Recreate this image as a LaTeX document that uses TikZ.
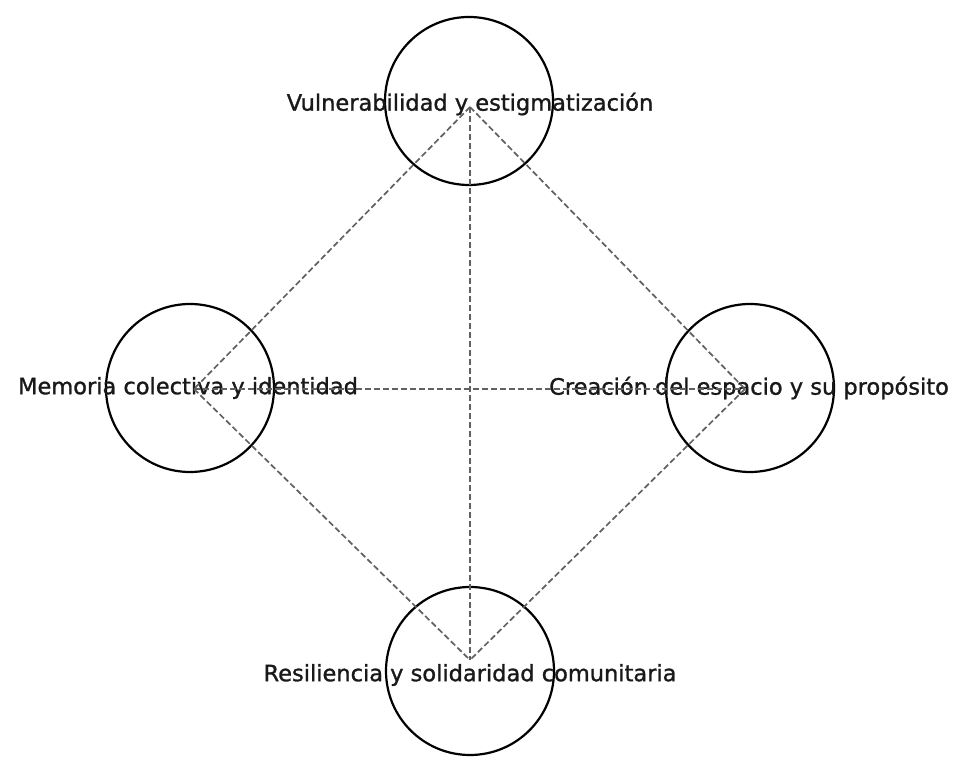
\documentclass[tikz,border=0pt]{standalone}
\usepackage{fontspec}
\setmainfont{DejaVu Sans}
\newfontfamily\lblfont[FakeBold=1.2]{DejaVu Sans}
\tikzset{
  ring/.style={circle, draw=black, line width=2.2pt, minimum size=168pt, inner sep=0pt},
  lbl/.style={font=\lblfont\fontsize{22.5}{26}\selectfont, text=black!90, inner sep=0pt},
  link/.style={draw=black!62, line width=1.7pt, dash pattern=on 6pt off 3pt}
}
\begin{document}
\begin{tikzpicture}[x=1pt,y=1pt]
\useasboundingbox (0,0) rectangle (955,757);
% circles
\node[ring] (top) at (469,656) {};
\node[ring] (left) at (190,369) {};
\node[ring] (right) at (750,369) {};
\node[ring] (bot) at (470,86) {};
% connector end points
\coordinate (tc) at (470,650);
\coordinate (lc) at (194,368);
\coordinate (rc) at (745,368);
\coordinate (bc) at (470,97);
% labels
\node[lbl] (ttop) at (470,653) {Vulnerabilidad y estigmatización};
\node[lbl] (tleft) at (188,369) {Memoria colectiva y identidad};
\node[lbl] (tright) at (749,369) {Creación del espacio y su propósito};
\node[lbl] (tbot) at (470,82) {Resiliencia y solidaridad comunitaria};
% connectors
\draw[link] (tc) -- (lc);
\draw[link] (tc) -- (rc);
\draw[link] (tc) -- (bc);
\draw[link] (lc) -- (rc);
\draw[link] (lc) -- (bc);
\draw[link] (rc) -- (bc);
\end{tikzpicture}
\end{document}
